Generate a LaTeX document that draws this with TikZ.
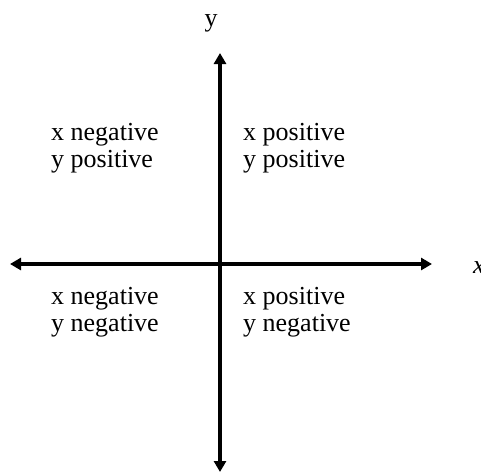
\documentclass[tikz,border=0pt]{standalone}
\usepackage{fontspec}
\setmainfont{Liberation Serif}
\usepackage{xcolor}
\usepackage{tikz}
\usetikzlibrary{arrows.meta,positioning}
\definecolor{ink}{HTML}{000000}
\tikzset{
  axisarrow/.style={
    {Triangle[length=11pt,width=12pt]}-{Triangle[length=11pt,width=12pt]},
    line width=4.8pt, color=ink
  },
  quadlabel/.style={
    anchor=north west, inner sep=0pt, align=left,
    font=\fontsize{26}{27}\selectfont
  },
  axislabel/.style={
    anchor=base, inner sep=0pt,
    font=\fontsize{26}{27}\selectfont
  },
}
\begin{document}
\begin{tikzpicture}[x=1pt,y=-1pt]
\useasboundingbox (0,0) rectangle (481,474);
\coordinate (xneg) at (10,264);
\coordinate (xpos) at (432,264);
\coordinate (ypos) at (220,53);
\coordinate (yneg) at (220,472);
\draw[axisarrow] (xneg) -- (xpos);
\draw[axisarrow] (yneg) -- (ypos);
\node[axislabel] (ylab) at (211,26) {y};
\node[axislabel, anchor=base west] (xlab) at (473,273) {\itshape x};
\node[quadlabel] (q2) at (51,123) {x negative\\y positive};
\node[quadlabel] (q1) at (243,123) {x positive\\y positive};
\node[quadlabel] (q3) at (51,287) {x negative\\y negative};
\node[quadlabel] (q4) at (243,287) {x positive\\y negative};
\end{tikzpicture}
\end{document}
